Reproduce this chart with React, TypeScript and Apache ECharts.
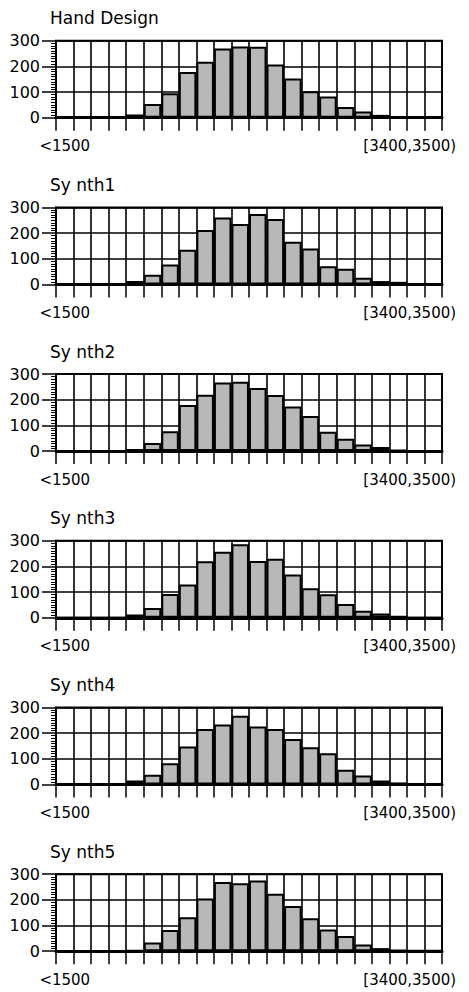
import React, { useEffect, useRef } from 'react';
import * as echarts from 'echarts';

const categories = [
  '<1500', '[1500,1600)', '[1600,1700)', '[1700,1800)', '[1800,1900)', '[1900,2000)',
  '[2000,2100)', '[2100,2200)', '[2200,2300)', '[2300,2400)', '[2400,2500)', '[2500,2600)',
  '[2600,2700)', '[2700,2800)', '[2800,2900)', '[2900,3000)', '[3000,3100)', '[3100,3200)',
  '[3200,3300)', '[3300,3400)', '[3400,3500)', '>=3500',
];
const labeledCategories = ['<1500', '[3400,3500)'];

const panelTitles = ['Hand Design', 'Sy nth1', 'Sy nth2', 'Sy nth3', 'Sy nth4', 'Sy nth5'];

const handDesign = [0, 0, 0, 3, 12, 53, 95, 178, 218, 270, 277, 276, 207, 153, 103, 83, 42, 24, 11, 0, 0, 0];
const synth1 = [0, 0, 0, 0, 13, 38, 78, 135, 212, 261, 235, 274, 255, 166, 140, 71, 61, 26, 13, 10, 2, 0];
const synth2 = [0, 0, 0, 0, 8, 32, 77, 180, 220, 267, 270, 246, 219, 174, 137, 75, 48, 26, 16, 5, 0, 0];
const synth3 = [0, 0, 0, 0, 13, 38, 93, 130, 220, 257, 287, 221, 230, 169, 115, 92, 54, 27, 17, 8, 0, 0];
const synth4 = [0, 0, 0, 0, 16, 38, 83, 148, 216, 234, 268, 226, 216, 177, 145, 122, 57, 35, 16, 8, 0, 0];
const synth5 = [0, 0, 0, 0, 3, 34, 83, 132, 205, 270, 265, 275, 224, 176, 128, 85, 59, 26, 12, 6, 4, 3];

const yMin = 0;
const yMax = 300;
const yInterval = 100;

export default function App() {
  const ref = useRef<HTMLDivElement>(null);

  useEffect(() => {
    document.body.style.margin = '0';
    const chart = echarts.init(ref.current!, null, { renderer: 'svg' });
    const allData = [handDesign, synth1, synth2, synth3, synth4, synth5];
    const FONT = 'DejaVu Sans';

    const grids: any[] = [];
    const xAxes: any[] = [];
    const yAxes: any[] = [];
    const series: any[] = [];
    const titles: any[] = [];

    allData.forEach((data, i) => {
      const top = 40.7 + i * 166.7;
      grids.push({
        left: 56,
        width: 386,
        top,
        height: 77,
        show: true,
        borderColor: '#000',
        borderWidth: 2,
        backgroundColor: '#fff',
      });
      titles.push({
        text: panelTitles[i],
        left: 50,
        top: top - 31,
        padding: 0,
        textStyle: { fontFamily: FONT, fontSize: 17, fontWeight: 'normal', color: '#000' },
      });
      xAxes.push({
        type: 'category',
        gridIndex: i,
        data: categories,
        boundaryGap: true,
        axisLine: { show: true, lineStyle: { color: '#000', width: 3 } },
        axisTick: { show: true, interval: 0, length: 13, lineStyle: { color: '#000', width: 1.5 } },
        splitLine: { show: true, interval: 0, lineStyle: { color: '#000', width: 1.6 } },
        axisLabel: {
          show: true,
          interval: 0,
          hideOverlap: false,
          margin: 21,
          color: '#000',
          fontFamily: FONT,
          fontSize: 15,
          formatter: (v: string) => {
            if (v === labeledCategories[0]) return '{a|' + v + '}';
            if (v === labeledCategories[1]) return '{b|' + v + '}';
            return '';
          },
          rich: {
            a: { fontFamily: FONT, fontSize: 15, color: '#000' },
            b: { fontFamily: FONT, fontSize: 15, color: '#000', padding: [0, 12, 0, 0] },
          },
        },
      });
      yAxes.push({
        type: 'value',
        gridIndex: i,
        min: yMin,
        max: yMax,
        interval: yInterval,
        axisLine: { show: true, lineStyle: { color: '#000', width: 2 } },
        axisTick: { show: true, length: 14, lineStyle: { color: '#000', width: 1.5 } },
        minorTick: { show: true, splitNumber: 10, length: 5, lineStyle: { color: '#000', width: 1 } },
        splitLine: { show: true, lineStyle: { color: '#000', width: 1.6 } },
        axisLabel: { margin: 16, color: '#000', fontFamily: FONT, fontSize: 16 },
      });
      series.push({
        type: 'bar',
        xAxisIndex: i,
        yAxisIndex: i,
        data,
        barCategoryGap: '0%',
        itemStyle: { color: '#b8b8b8', borderColor: '#000', borderWidth: 2 },
        silent: true,
      });
    });

    chart.setOption({
      animation: false,
      backgroundColor: '#fff',
      title: titles,
      grid: grids,
      xAxis: xAxes,
      yAxis: yAxes,
      series,
    });

    return () => {
      chart.dispose();
    };
  }, []);

  return <div ref={ref} style={{ position: 'absolute', left: 0, top: 0, width: 469, height: 992 }} />;
}
